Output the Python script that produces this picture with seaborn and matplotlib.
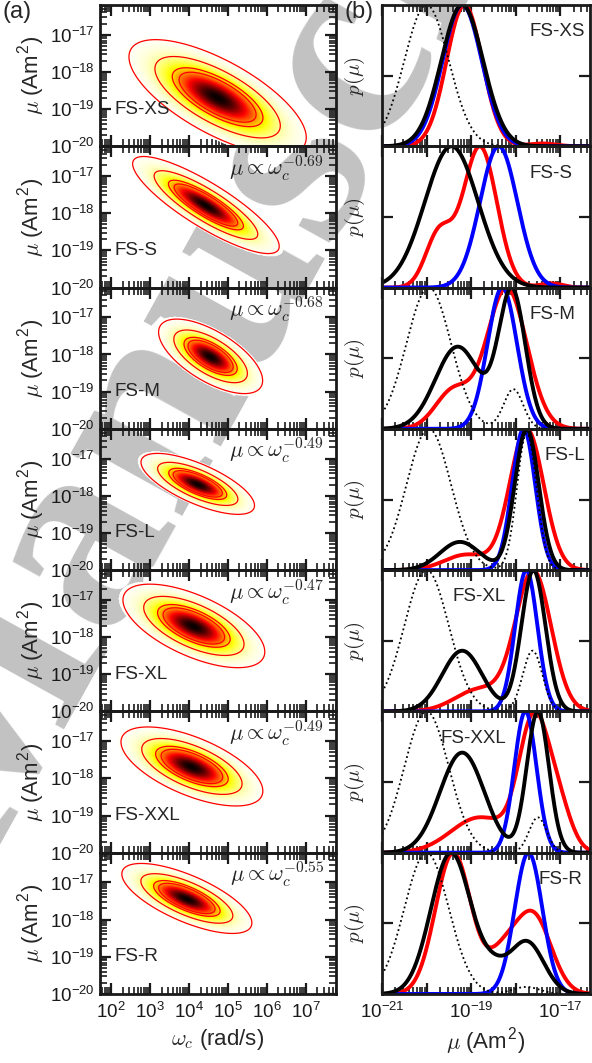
import numpy as np
import pandas as pd
import seaborn as sns
import matplotlib
matplotlib.use("Agg")
import matplotlib.pyplot as plt
from matplotlib.ticker import FixedLocator, FuncFormatter, NullFormatter

# ---- data ----
labels = ["FS-XS", "FS-S", "FS-M", "FS-L", "FS-XL", "FS-XXL", "FS-R"]
slopes = [None, "-0.69", "-0.68", "-0.49", "-0.47", "-0.49", "-0.55"]

# 2D log-normal fits (log10 omega_c, log10 mu)
ell_cx = [4.74, 4.44, 4.56, 4.23, 4.13, 4.08, 3.95]
ell_cy = [-18.68, -17.78, -18.05, -17.68, -17.70, -17.68, -17.43]
ell_sx = [0.75, 0.62, 0.44, 0.48, 0.60, 0.60, 0.55]
ell_sy = [0.51, 0.43, 0.33, 0.27, 0.37, 0.35, 0.31]
ell_rho = [-0.70, -0.85, -0.65, -0.71, -0.62, -0.62, -0.70]
contour_levels = [0.01, 0.1, 0.3, 0.42]

# p(mu) curves as lognormal mixtures: (log10 mu, sigma, weight)
red_mix = [
    [(-19.15, 0.40, 1.0), (-17.4, 0.30, 0.02)],
    [(-18.80, 0.38, 1.0), (-19.72, 0.30, 0.38), (-17.2, 0.25, 0.03)],
    [(-18.20, 0.45, 1.0), (-19.40, 0.40, 0.27)],
    [(-17.75, 0.38, 1.0), (-19.10, 0.50, 0.11)],
    [(-17.60, 0.40, 1.0), (-18.80, 0.55, 0.16)],
    [(-17.60, 0.33, 1.0), (-17.05, 0.30, 0.35), (-18.80, 0.65, 0.28)],
    [(-19.40, 0.40, 1.0), (-17.60, 0.40, 0.55), (-18.30, 0.35, 0.25)],
]
blue_mix = [
    [(-19.20, 0.44, 1.0)],
    [(-18.38, 0.42, 1.0)],
    [(-18.30, 0.33, 1.0)],
    [(-17.82, 0.26, 1.0)],
    [(-17.76, 0.25, 1.0)],
    [(-17.78, 0.25, 1.0)],
    [(-17.71, 0.31, 1.0)],
]
black_mix = [
    [(-19.20, 0.47, 1.0)],
    [(-19.44, 0.60, 1.0)],
    [(-18.08, 0.30, 1.0), (-19.30, 0.50, 0.60)],
    [(-17.75, 0.27, 1.0), (-19.25, 0.45, 0.20)],
    [(-17.60, 0.27, 1.0), (-19.20, 0.45, 0.43)],
    [(-17.50, 0.25, 1.0), (-19.20, 0.50, 0.71)],
    [(-19.45, 0.45, 1.0), (-17.75, 0.38, 0.37), (-18.50, 0.30, 0.13)],
]
dotted_mix = [
    [(-20.00, 0.50, 1.0)],
    None,
    [(-19.95, 0.50, 1.0), (-18.05, 0.22, 0.28)],
    [(-19.95, 0.50, 1.0), (-17.75, 0.22, 0.97)],
    [(-20.00, 0.50, 1.0), (-17.62, 0.22, 0.43)],
    [(-20.00, 0.50, 1.0), (-17.50, 0.20, 0.25)],
    [(-20.00, 0.50, 1.0), (-17.76, 0.30, 0.05)],
]

# where the FS label sits in the right panels (axes fraction, left edge)
right_label_x = [0.71, 0.71, 0.71, 0.78, 0.34, 0.28, 0.75]

sns.set_theme(style="white")
plt.rcParams["font.family"] = ["Liberation Sans", "DejaVu Sans"]
plt.rcParams["mathtext.fontset"] = "cm"
plt.rcParams["axes.facecolor"] = "none"
plt.rcParams["axes.edgecolor"] = "#1a1a1a"
plt.rcParams["axes.linewidth"] = 2.0

W, H = 592, 1063
fig = plt.figure(figsize=(W / 100, H / 100), dpi=100)
fig.patch.set_facecolor("white")

# watermark
fig.text(0.44, 0.785, "Manuscript", rotation=61, fontsize=200, color="#c2c2c2",
         family="Liberation Serif", weight="bold", ha="center", va="center",
         zorder=-5)


def mixture(x, comps):
    y = np.zeros_like(x)
    for m, s, w in comps:
        y = y + w * np.exp(-(x - m) ** 2 / (2 * s ** 2))
    return y / y.max()


def decades(lo, hi):
    return [10.0 ** e for e in range(lo, hi + 1)]


def minors(lo, hi):
    return [m * 10.0 ** e for e in range(lo, hi + 1) for m in range(2, 10)]


def style_ticks(ax):
    ax.tick_params(which="both", direction="in", top=True, right=True,
                   bottom=True, left=True, colors="#1a1a1a", labelsize=13.5)
    ax.tick_params(which="major", length=8, width=1.6)
    ax.tick_params(which="minor", length=5, width=1.2)
    ax.tick_params(axis="x", pad=6)
    ax.tick_params(axis="y", pad=4)


gx = np.linspace(1.6, 7.9, 320)
gy = np.linspace(-20.6, -16.0, 320)
LX, LY = np.meshgrid(gx, gy)
xr = np.linspace(-21.0, -16.3, 600)

top_px, bot_px = 5, 994
row_h = (bot_px - top_px) / 7
sup2 = r"(Am$^{\mathdefault{2}}$)"

for i in range(7):
    y0 = 1 - (top_px + (i + 1) * row_h) / H
    axl = fig.add_axes([100 / W, y0, 236 / W, row_h / H])
    axr = fig.add_axes([382 / W, y0, 208 / W, row_h / H])

    # ---- left: joint distribution ----
    dx = (LX - ell_cx[i]) / ell_sx[i]
    dy = (LY - ell_cy[i]) / ell_sy[i]
    r = ell_rho[i]
    Z = np.exp(-(dx ** 2 - 2 * r * dx * dy + dy ** 2) / (2 * (1 - r ** 2)))
    Zm = np.ma.masked_less(Z, 0.006)
    axl.set_xscale("log")
    axl.set_yscale("log")
    axl.pcolormesh(10 ** LX, 10 ** LY, Zm, cmap="hot_r", vmin=0, vmax=1,
                   shading="gouraud", rasterized=True)
    axl.contour(10 ** LX, 10 ** LY, Z, levels=contour_levels, colors="red",
                linewidths=0.9)
    axl.set_xlim(10 ** 1.72, 10 ** 7.78)
    axl.set_ylim(1e-20, 10 ** -16.2)
    axl.xaxis.set_major_locator(FixedLocator(decades(2, 7)))
    axl.xaxis.set_minor_locator(FixedLocator(minors(1, 7)))
    axl.yaxis.set_major_locator(FixedLocator(decades(-20, -17)))
    axl.yaxis.set_minor_locator(FixedLocator(minors(-20, -17)))
    axl.xaxis.set_major_formatter(FuncFormatter(
        lambda v, p: r"$\mathdefault{10^{%d}}$" % round(np.log10(v))))
    axl.yaxis.set_major_formatter(FuncFormatter(
        lambda v, p: r"$\mathdefault{10^{%d}}$" % round(np.log10(v))))
    axl.yaxis.set_minor_formatter(NullFormatter())
    axl.xaxis.set_minor_formatter(NullFormatter())
    style_ticks(axl)
    axl.set_ylabel(r"$\mu$ " + sup2, fontsize=16, labelpad=1)
    axl.text(10 ** 2.08, 1e-19, labels[i], fontsize=13.5, va="center", ha="left")
    if slopes[i] is not None:
        axl.text(0.95, 0.80, r"$\mu \propto \omega_c^{" + slopes[i] + "}$",
                 transform=axl.transAxes, ha="right", va="baseline", fontsize=16)

    # ---- right: marginal distributions ----
    axr.set_xscale("log")
    df = pd.DataFrame({"mu": 10 ** xr,
                       "red": mixture(xr, red_mix[i]),
                       "blue": mixture(xr, blue_mix[i]),
                       "black": mixture(xr, black_mix[i])})
    sns.lineplot(data=df, x="mu", y="red", ax=axr, color="#ff0000", linewidth=2.8)
    sns.lineplot(data=df, x="mu", y="blue", ax=axr, color="#0000ff", linewidth=2.8)
    sns.lineplot(data=df, x="mu", y="black", ax=axr, color="black", linewidth=2.8)
    if dotted_mix[i] is not None:
        df["dot"] = mixture(xr, dotted_mix[i])
        sns.lineplot(data=df, x="mu", y="dot", ax=axr, color="black",
                     linewidth=1.3, linestyle=(0, (1, 1.6)))
    axr.set_xlim(1e-21, 10 ** -16.33)
    axr.set_ylim(0, 1.0)
    axr.set_yticks([0.5])
    axr.set_yticklabels([])
    axr.xaxis.set_major_locator(FixedLocator(decades(-21, -17)))
    axr.xaxis.set_minor_locator(FixedLocator(minors(-21, -17)))
    axr.xaxis.set_minor_formatter(NullFormatter())
    axr.xaxis.set_major_formatter(FuncFormatter(
        lambda v, p: r"$\mathdefault{10^{%d}}$" % round(np.log10(v))
        if round(np.log10(v)) % 2 != 0 else ""))
    style_ticks(axr)
    axr.set_ylabel(r"$p(\mu)$", fontsize=15, labelpad=7)
    axr.set_xlabel("")
    axr.text(right_label_x[i], 0.81, labels[i], transform=axr.transAxes,
             fontsize=13.5, va="center", ha="left")

    if i < 6:
        axl.tick_params(labelbottom=False)
        axr.tick_params(labelbottom=False)
    else:
        axl.set_xlabel(r"$\omega_c$ (rad/s)", fontsize=16, labelpad=3)
        axr.set_xlabel(r"$\mu$ " + sup2, fontsize=16, labelpad=3)

fig.text(0.005, 0.999, "(a)", fontsize=17, va="top", ha="left")
fig.text(0.582, 0.999, "(b)", fontsize=17, va="top", ha="left")

fig.savefig("out.png", dpi=100)
